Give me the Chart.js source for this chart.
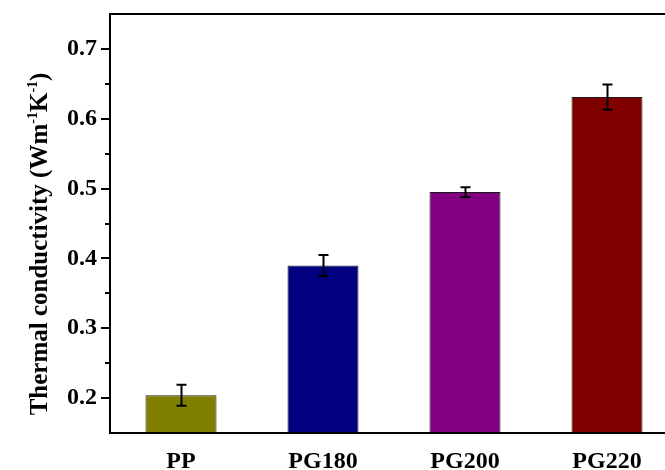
<!DOCTYPE html>
<html>
<head>
<meta charset="utf-8">
<script src="https://cdn.jsdelivr.net/npm/chart.js@4"></script>
<style>
  html, body { margin: 0; padding: 0; background: #ffffff; overflow: hidden; }
  #wrap { position: relative; width: 690px; height: 470px; }
</style>
</head>
<body>
<div id="wrap"><canvas id="c" width="690" height="470"></canvas></div>
<script>
const categories = ['PP', 'PG180', 'PG200', 'PG220'];
const values = [0.204, 0.390, 0.495, 0.631];
const errors = [0.015, 0.015, 0.007, 0.018];
const barColors = ['#808000', '#000080', '#800080', '#800000'];
const yMajorTicks = [0.2, 0.3, 0.4, 0.5, 0.6, 0.7];
const yMin = 0.15, yMax = 0.75;

const SERIF = '"Liberation Serif", "Times New Roman", serif';

const framePlugin = {
  id: 'frame',
  afterDatasetsDraw(chart) {
    const ctx = chart.ctx;
    const ys = chart.scales.y;
    const meta = chart.getDatasetMeta(0);
    ctx.save();
    ctx.strokeStyle = '#000';
    ctx.lineWidth = 2;
    meta.data.forEach((bar, i) => {
      const x = Math.round(bar.x) + 0.5;
      const yt = ys.getPixelForValue(values[i] + errors[i]);
      const yb = ys.getPixelForValue(values[i] - errors[i]);
      ctx.beginPath();
      ctx.moveTo(x, yt); ctx.lineTo(x, yb);
      ctx.moveTo(x - 5, yt); ctx.lineTo(x + 5, yt);
      ctx.moveTo(x - 5, yb); ctx.lineTo(x + 5, yb);
      ctx.stroke();
    });
    ctx.restore();
  },
  afterDraw(chart) {
    const ctx = chart.ctx;
    const a = chart.chartArea;
    const ys = chart.scales.y;
    ctx.save();
    ctx.strokeStyle = '#000';
    ctx.lineWidth = 2;
    ctx.beginPath();
    ctx.moveTo(chart.width, a.top); ctx.lineTo(a.left, a.top);
    ctx.lineTo(a.left, a.bottom); ctx.lineTo(chart.width, a.bottom);
    ctx.stroke();
    ys.ticks.forEach(t => {
      const v = t.value;
      if (v <= yMin + 1e-9 || v >= yMax - 1e-9) return;
      const y = Math.round(ys.getPixelForValue(v));
      const major = yMajorTicks.some(m => Math.abs(m - v) < 1e-6);
      const len = major ? 9 : 5;
      ctx.beginPath();
      ctx.moveTo(a.left - len, y); ctx.lineTo(a.left, y);
      ctx.stroke();
    });
    const cx = 47, cy = 244;
    const big = 'bold 25px ' + SERIF;
    const small = 'bold 14px ' + SERIF;
    const parts = [
      ['Thermal conductivity (Wm', big, 0],
      ['-1', small, -10],
      ['K', big, 0],
      ['-1', small, -10],
      [')', big, 0]
    ];
    let total = 0;
    parts.forEach(p => { ctx.font = p[1]; total += ctx.measureText(p[0]).width; });
    ctx.translate(cx, cy);
    ctx.rotate(-Math.PI / 2);
    ctx.fillStyle = '#000';
    ctx.textBaseline = 'alphabetic';
    ctx.textAlign = 'left';
    let x = -total / 2;
    parts.forEach(p => {
      ctx.font = p[1];
      ctx.fillText(p[0], x, p[2]);
      x += ctx.measureText(p[0]).width;
    });
    ctx.restore();
  }
};

new Chart(document.getElementById('c'), {
  type: 'bar',
  data: {
    labels: categories,
    datasets: [{
      data: values,
      backgroundColor: barColors,
      borderColor: '#1a1a1a',
      borderWidth: 1,
      barPercentage: 0.5,
      categoryPercentage: 1.0
    }]
  },
  options: {
    responsive: false,
    animation: false,
    events: [],
    layout: { padding: { left: 0, right: 12, top: 14, bottom: 0 } },
    plugins: { legend: { display: false }, tooltip: { enabled: false } },
    scales: {
      x: {
        grid: { display: false, drawTicks: false },
        border: { display: false },
        ticks: {
          color: '#000',
          font: { family: SERIF, size: 24, weight: 'bold' },
          padding: 14
        },
        afterFit(s) { s.height = 37; s.paddingLeft = 0; s.paddingRight = 0; }
      },
      y: {
        min: yMin, max: yMax,
        grid: { display: false, drawTicks: false },
        border: { display: false },
        ticks: {
          stepSize: 0.05,
          color: '#000',
          padding: 13,
          font: { family: SERIF, size: 24, weight: 'bold' },
          callback(v) {
            return yMajorTicks.some(m => Math.abs(m - v) < 1e-6) ? v.toFixed(1) : '';
          }
        },
        afterFit(s) { s.width = 110; s.paddingTop = 0; s.paddingBottom = 0; }
      }
    }
  },
  plugins: [framePlugin]
});
</script>
</body>
</html>
